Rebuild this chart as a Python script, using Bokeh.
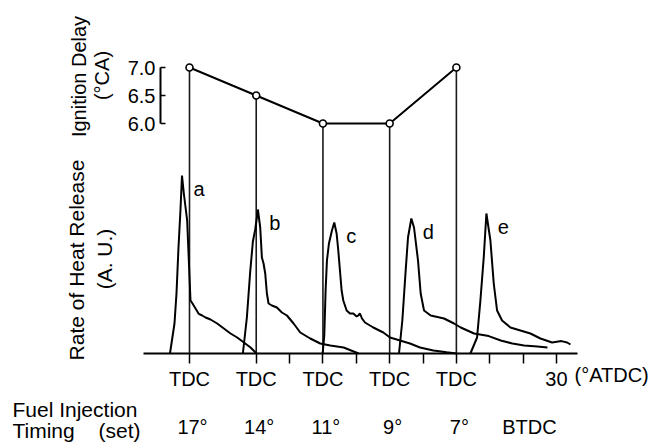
import math
from bokeh.plotting import figure
from bokeh.models import Range1d, LinearAxis, FixedTicker, PrintfTickFormatter
from bokeh.core.properties import value
from bokeh.embed import file_html
from bokeh.resources import INLINE

# ---------------- data ----------------
curve_names = ["a", "b", "c", "d", "e"]
injection_timing = ["17°", "14°", "11°", "9°", "7°"]      # set, BTDC
ignition_delay = [7.0, 6.5, 6.0, 6.0, 7.0]                # °CA
tdc_shift = [0, 20, 40, 60, 80]                           # composite x shift of each record (°CA)

# rate of heat release (A.U.) vs crank angle (°ATDC, each relative to its own TDC)
a_ca = [-5.85, -4.5, -3.9, -3.3, -2.7, -2.25, -1.7, -0.7, -0.2, 0.3, 0.9, 2.8, 3.8, 4.8, 6.3, 8.3, 10.3, 12.3, 14.3, 16.3, 18.3, 20.1]
a_rhr = [0, 15, 30, 53, 72, 89, 80, 66.5, 46.5, 26.5, 25, 19.8, 19, 18, 17, 15, 12.5, 10, 8, 5.5, 3, 0]
b_ca = [-4.0, -2.8, -1.8, -1.0, -0.3, 0.2, 0.5, 1.2, 1.7, 2.2, 2.7, 3.2, 3.7, 4.7, 6.2, 7.7, 9.2, 11.2, 13.2, 16.2, 19.2, 22.2, 26.2, 29.2, 30.7]
b_rhr = [0, 18, 41, 56, 62, 68, 72, 63, 48, 45, 40, 30, 25, 24, 23, 20.5, 19, 15, 10.5, 7.5, 5, 4, 3, 1, 0]
c_ca = [-0.1, 0.4, 0.8, 1.2, 1.8, 2.7, 3.4, 4.1, 4.6, 5.1, 5.6, 6.1, 7.1, 8.1, 9.1, 10.1, 10.6, 11.1, 11.7, 12.6, 15.1, 18.1, 20.1, 23.1, 26.1, 29.1, 33.1, 37.1, 40.1]
c_rhr = [0, 9, 31.5, 46.5, 55, 61.5, 65.5, 60, 51.5, 41.5, 31.5, 26.5, 21.5, 20, 20, 18.5, 19, 20, 17.5, 15.5, 13, 10.5, 8, 6.5, 5, 3, 1.5, 0.6, 0]
d_ca = [2.8, 3.8, 4.8, 5.5, 6.5, 7.3, 8.5, 9.3, 10.3, 12.3, 16.3, 19.3, 21.3, 25.3, 29.7, 33.3, 36.8, 40.3, 44.3, 47.3]
d_rhr = [0, 16.5, 41.5, 58, 67.5, 63, 46.5, 30, 21.5, 19, 17.5, 15, 13, 10, 8.7, 6.5, 5, 4, 3.5, 3]
e_ca = [4.2, 6.2, 7.2, 8.2, 9.0, 10.2, 11.2, 12.2, 13.7, 16.2, 19.2, 22.2, 25.2, 28.7, 31.5, 33.2, 34.2]
e_rhr = [0, 8, 26.5, 48, 70, 56.5, 35, 21.5, 16.5, 13, 11.5, 10, 7.5, 5.5, 6.2, 5.5, 4.5]

curves_ca = [a_ca, b_ca, c_ca, d_ca, e_ca]
curves_rhr = [a_rhr, b_rhr, c_rhr, d_rhr, e_rhr]

x_ticks = [0, 20, 30, 40, 50, 60, 70, 80, 90, 100, 110]
x_tick_labels = {0: "TDC", 20: "TDC", 30: "", 40: "TDC", 50: "", 60: "TDC",
                 70: "", 80: "TDC", 90: "", 100: "", 110: "30"}
delay_ticks = [6.0, 6.5, 7.0]

# ---------------- layout (pixels of the canvas) ----------------
W, H = 654, 446
X0_PX, PX_PER_DEG = 189.0, 3.336      # canvas x of composite 0
BASE_PX, PX_PER_AU = 353.0, 2.0       # canvas y of heat-release baseline
D7_PX, PX_PER_CA = 67.0, 56.0         # canvas y of 7.0 °CA delay

x_range = Range1d(-X0_PX / PX_PER_DEG, (W - X0_PX) / PX_PER_DEG)
y_range = Range1d(-(H - BASE_PX) / PX_PER_AU, BASE_PX / PX_PER_AU)
d_range = Range1d(7.0 - (H - D7_PX) / PX_PER_CA, 7.0 + D7_PX / PX_PER_CA)

def dx(px):
    return (px - X0_PX) / PX_PER_DEG

def dy(py):
    return (BASE_PX - py) / PX_PER_AU

# delay-scale value at the heat-release baseline
d_base = d_range.end - (y_range.end - 0.0) / (y_range.end - y_range.start) * (d_range.end - d_range.start)

FONT = value("Liberation Sans")
FS = value("20px")
FS_BIG = value("21px")

p = figure(width=W, height=H, x_range=x_range, y_range=y_range,
           x_axis_location=None, y_axis_location=None,
           toolbar_location=None, output_backend="svg", min_border=0)
p.extra_y_ranges = {"delay": d_range}
p.outline_line_color = None
p.background_fill_color = "white"
p.border_fill_color = "white"
p.grid.grid_line_color = None
p.grid.visible = False

# vertical lines from delay points to TDC
p.segment(x0=tdc_shift, x1=tdc_shift, y0=ignition_delay, y1=[d_base] * len(tdc_shift),
          y_range_name="delay", line_color="#1a1a1a", line_width=1.6)

# heat release curves
for ca, rhr, sh in zip(curves_ca, curves_rhr, tdc_shift):
    p.line([c + sh for c in ca], rhr, line_color="black", line_width=2)

# curve letters near peaks
peak_x, peak_y = [], []
for ca, rhr, sh in zip(curves_ca, curves_rhr, tdc_shift):
    i = rhr.index(max(rhr))
    peak_x.append(ca[i] + sh)
    peak_y.append(rhr[i])
p.text(x=peak_x, y=peak_y, text=curve_names, x_offset=17, y_offset=13,
       text_font=FONT, text_font_size=FS, text_color="black",
       text_align="center", text_baseline="middle")

# ignition delay line
p.line(tdc_shift, ignition_delay, y_range_name="delay", line_color="black", line_width=2)
p.scatter(tdc_shift, ignition_delay, y_range_name="delay", marker="circle", size=7,
          fill_color="white", line_color="black", line_width=1.6)

# crank angle axis
xa = LinearAxis(fixed_location=0, ticker=FixedTicker(ticks=x_ticks),
                major_label_overrides=x_tick_labels, bounds=(dx(143), dx(577)))
xa.axis_line_width = 2
xa.axis_line_color = "black"
xa.major_tick_out = 10
xa.major_tick_in = 0
xa.major_tick_line_width = 1.5
xa.minor_tick_line_color = None
xa.major_label_standoff = 4
xa.major_label_text_font = "Liberation Sans"
xa.major_label_text_font_size = "20px"
xa.major_label_text_color = "black"
p.add_layout(xa, "below")

# ignition delay scale
ya = LinearAxis(y_range_name="delay", fixed_location=dx(160), ticker=FixedTicker(ticks=delay_ticks),
                formatter=PrintfTickFormatter(format="%.1f"), bounds=(6.0, 7.0))
ya.axis_line_width = 2
ya.axis_line_color = "black"
ya.major_tick_in = 5
ya.major_tick_out = 0
ya.major_tick_line_width = 1.5
ya.minor_tick_line_color = None
ya.major_label_standoff = 5
ya.major_label_text_font = "Liberation Sans"
ya.major_label_text_font_size = "20px"
ya.major_label_text_color = "black"
p.add_layout(ya, "left")

# axis titles (rotated)
p.text(x=[dx(78), dx(101)], y=[dy(76), dy(75)], text=["Ignition Delay", "(°CA)"],
       angle=math.pi / 2, text_font=FONT, text_font_size=FS, text_color="black",
       text_align="center", text_baseline="middle")
p.text(x=[dx(76), dx(104)], y=[dy(259.5), dy(258.5)], text=["Rate of Heat Release", "(A. U.)"],
       angle=math.pi / 2, text_font=FONT, text_font_size=FS_BIG, text_color="black",
       text_align="center", text_baseline="middle")

# unit label of crank angle
p.text(x=[dx(574)], y=[dy(374)], text=["(°ATDC)"], text_font=FONT, text_font_size=FS,
       text_color="black", text_align="left", text_baseline="middle")

# fuel injection timing row
p.text(x=[dx(12)], y=[dy(409)], text=["Fuel Injection"], text_font=FONT, text_font_size=FS_BIG,
       text_color="black", text_align="left", text_baseline="alphabetic")
p.text(x=[dx(12)], y=[dy(430)], text=["Timing"], text_font=FONT, text_font_size=FS_BIG,
       text_color="black", text_align="left", text_baseline="alphabetic")
p.text(x=[dx(140)], y=[dy(430)], text=["(set)"], text_font=FONT, text_font_size=FS_BIG,
       text_color="black", text_align="right", text_baseline="alphabetic")
p.text(x=tdc_shift + [101], y=[dy(426)] * 6, text=injection_timing + ["BTDC"],
       x_offset=3, text_font=FONT, text_font_size=FS, text_color="black",
       text_align="center", text_baseline="alphabetic")

open("out.html", "w").write(file_html(p, INLINE))
